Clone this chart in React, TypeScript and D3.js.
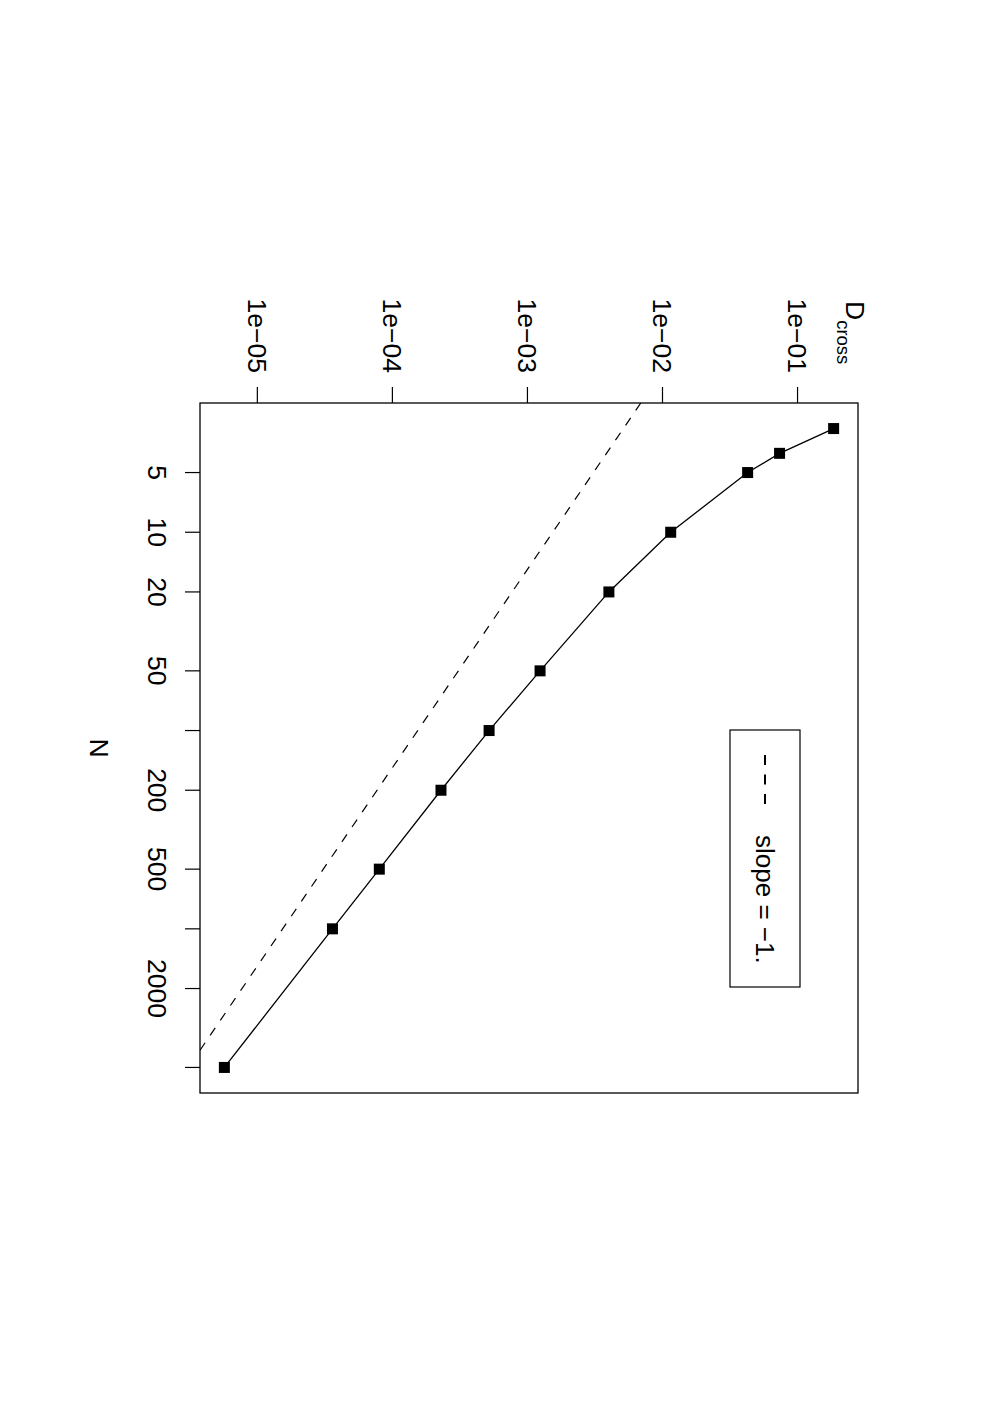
import { useEffect, useRef } from 'react';
import * as d3 from 'd3';

// data
const nValues = [3, 4, 5, 10, 20, 50, 100, 200, 500, 1000, 5000];
const dCross = [0.185, 0.0736, 0.0427, 0.0115, 0.00401, 0.00124, 0.00052, 0.000229, 0.00008, 0.000036, 0.0000057];
const nTicks = [5, 10, 20, 50, 100, 200, 500, 1000, 2000, 5000];
const nTickLabels = ['5', '10', '20', '50', '', '200', '500', '', '2000', ''];
const dTicks = [1e-5, 1e-4, 1e-3, 1e-2, 1e-1];
const dTickLabels = ['1e\u221205', '1e\u221204', '1e\u221203', '1e\u221202', '1e\u221201'];
const slopeConst = 0.0154;
const legendLabel = 'slope = \u22121.';

const FONT = '"Liberation Sans", Arial, Helvetica, sans-serif';

export default function App() {
  const svgRef = useRef<SVGSVGElement | null>(null);

  useEffect(() => {
    if (!svgRef.current) return;
    const root = d3.select(svgRef.current);
    root.selectAll('*').remove();

    // plot is drawn landscape, then the whole page is turned 90deg clockwise
    const g = root.append('g').attr('transform', 'translate(992,0) rotate(90)');

    const left = 403;
    const right = 1093;
    const top = 134;
    const bottom = 792;

    // R style 4% padding on log axes
    const pad = (vals: number[]) => {
      const lo = Math.log10(d3.min(vals) as number);
      const hi = Math.log10(d3.max(vals) as number);
      const p = (hi - lo) * 0.04;
      return [Math.pow(10, lo - p), Math.pow(10, hi + p)];
    };

    const x = d3.scaleLog().domain(pad(nValues)).range([left, right]);
    const y = d3.scaleLog().domain(pad(dCross)).range([bottom, top]);

    g.append('defs')
      .append('clipPath')
      .attr('id', 'plotclip')
      .append('rect')
      .attr('x', left)
      .attr('y', top)
      .attr('width', right - left)
      .attr('height', bottom - top);

    // box
    g.append('rect')
      .attr('x', left)
      .attr('y', top)
      .attr('width', right - left)
      .attr('height', bottom - top)
      .attr('fill', 'none')
      .attr('stroke', '#000')
      .attr('stroke-width', 1.3);

    // N axis (bottom)
    g.selectAll('.nt')
      .data(nTicks)
      .enter()
      .append('line')
      .attr('x1', (d) => x(d))
      .attr('x2', (d) => x(d))
      .attr('y1', bottom)
      .attr('y2', bottom + 15)
      .attr('stroke', '#000')
      .attr('stroke-width', 1.2);

    g.selectAll('.nl')
      .data(nTicks)
      .enter()
      .append('text')
      .attr('x', (d) => x(d))
      .attr('y', bottom + 52)
      .attr('text-anchor', 'middle')
      .style('font-family', FONT)
      .style('font-size', '26.5px')
      .text((d, i) => nTickLabels[i]);

    // D axis (left)
    g.selectAll('.dt')
      .data(dTicks)
      .enter()
      .append('line')
      .attr('x1', left - 16)
      .attr('x2', left)
      .attr('y1', (d) => y(d))
      .attr('y2', (d) => y(d))
      .attr('stroke', '#000')
      .attr('stroke-width', 1.2);

    g.selectAll('.dl')
      .data(dTicks)
      .enter()
      .append('text')
      .attr('x', left - 30)
      .attr('y', (d) => y(d))
      .attr('dy', '0.36em')
      .attr('text-anchor', 'end')
      .style('font-family', FONT)
      .style('font-size', '26.5px')
      .text((d, i) => dTickLabels[i]);

    // axis titles
    g.append('text')
      .attr('x', (left + right) / 2)
      .attr('y', 902)
      .attr('text-anchor', 'middle')
      .style('font-family', FONT)
      .style('font-size', '26.5px')
      .text('N');

    const ylab = g
      .append('text')
      .attr('x', 301)
      .attr('y', 146)
      .style('font-family', FONT)
      .style('font-size', '26.5px');
    ylab.append('tspan').text('D');
    ylab.append('tspan').attr('y', 155).style('font-size', '18.5px').text('cross');

    // slope -1 reference line
    const refN = x.domain();
    const line = d3
      .line<number>()
      .x((d) => x(d))
      .y((d) => y(slopeConst / d));
    g.append('path')
      .attr('d', line(refN))
      .attr('clip-path', 'url(#plotclip)')
      .attr('fill', 'none')
      .attr('stroke', '#000')
      .attr('stroke-width', 1.2)
      .attr('stroke-dasharray', '9,9');

    // data line + squares
    const idx = d3.range(nValues.length);
    const dataLine = d3
      .line<number>()
      .x((i) => x(nValues[i]))
      .y((i) => y(dCross[i]));
    g.append('path')
      .attr('d', dataLine(idx))
      .attr('fill', 'none')
      .attr('stroke', '#000')
      .attr('stroke-width', 1.3);

    const s = 11;
    g.selectAll('.pt')
      .data(idx)
      .enter()
      .append('rect')
      .attr('x', (i) => x(nValues[i]) - s / 2)
      .attr('y', (i) => y(dCross[i]) - s / 2)
      .attr('width', s)
      .attr('height', s)
      .attr('fill', '#000');

    // legend
    const lg = g.append('g');
    lg.append('rect')
      .attr('x', 730)
      .attr('y', 192)
      .attr('width', 257)
      .attr('height', 70)
      .attr('fill', '#fff')
      .attr('stroke', '#000')
      .attr('stroke-width', 1.2);
    lg.append('line')
      .attr('x1', 755)
      .attr('x2', 804)
      .attr('y1', 227)
      .attr('y2', 227)
      .attr('stroke', '#000')
      .attr('stroke-width', 2)
      .attr('stroke-dasharray', '10,9.5');
    lg.append('text')
      .attr('x', 835)
      .attr('y', 227)
      .attr('dy', '0.36em')
      .style('font-family', FONT)
      .style('font-size', '26px')
      .text(legendLabel);
  }, []);

  return (
    <svg
      ref={svgRef}
      width={992}
      height={1404}
      style={{ position: 'absolute', left: 0, top: 0, background: '#fff' }}
    />
  );
}
